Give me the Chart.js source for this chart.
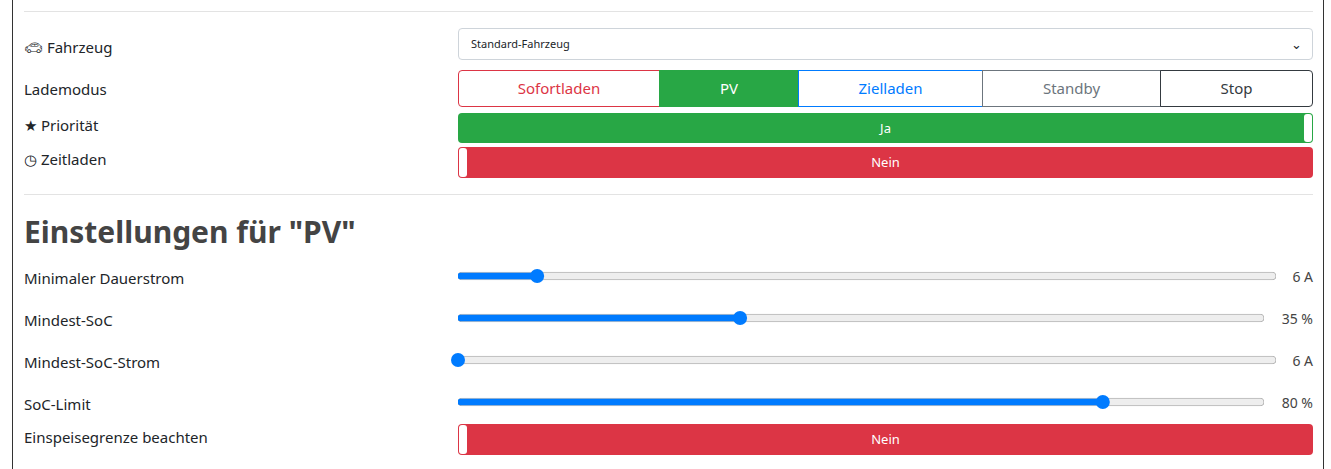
<!DOCTYPE html>
<html><head><meta charset="utf-8">
<script src="https://cdn.jsdelivr.net/npm/chart.js@4/dist/chart.umd.min.js"></script>
<style>
body{margin:0;width:1331px;height:469px;background:#fff;font-family:"Noto Sans","Open Sans",sans-serif;color:#212529;overflow:hidden;position:relative}
.a{position:absolute}
.frame{left:12px;top:-2px;width:1310px;height:480px;border-left:1px solid #333;border-right:1px solid #333}
.hr{left:24px;width:1289px;height:1px;background:#e3e3e3}
.lbl{left:24px;font-size:15px;line-height:20px}
.sel{left:458px;top:28px;width:853px;height:30px;border:1px solid #ced4da;border-radius:4px;font-size:11px;line-height:30px;text-indent:12px}
.sel span{position:absolute;right:10px;top:0;font-size:13px}
.btn{top:70px;height:35px;border:1px solid;font-size:15px;line-height:35px;text-align:center;box-sizing:content-box}
.tog{left:458px;width:855px;border-radius:4px;color:#fff;font-size:13px;text-align:center}
.knob{top:1px;width:8px;bottom:1px;background:#fff;border-radius:3px}
.val{font-size:14px;color:#444;line-height:20px}
h2{position:absolute;left:24px;top:211px;margin:0;font-size:30px;font-weight:bold;color:#444}
</style></head><body>
<div class="a frame"></div>
<div class="a hr" style="top:11px"></div>
<div class="a hr" style="top:194px"></div>
<div class="a lbl" style="top:37px">&#128663;&#xFE0E; Fahrzeug</div>
<div class="a lbl" style="top:79px">Lademodus</div>
<div class="a lbl" style="top:115px">&#9733; Priorität</div>
<div class="a lbl" style="top:149px">&#9719; Zeitladen</div>
<div class="a sel">Standard-Fahrzeug<span>&#8964;</span></div>
<div id="btns"></div>
<div class="a tog" style="top:113px;height:30px;line-height:30px;background:#28a745">Ja<div class="a knob" style="right:1px"></div></div>
<div class="a tog" style="top:147px;height:31px;line-height:31px;background:#dc3545">Nein<div class="a knob" style="left:1px"></div></div>
<h2>Einstellungen für "PV"</h2>
<div id="sliders"></div>
<div class="a lbl" style="top:427px">Einspeisegrenze beachten</div>
<div class="a tog" style="top:424px;height:31px;line-height:31px;background:#dc3545">Nein<div class="a knob" style="left:1px"></div></div>
<script>
const modes = ['Sofortladen', 'PV', 'Zielladen', 'Standby', 'Stop'];
const modeColors = ['#dc3545', '#28a745', '#007bff', '#6c757d', '#343a40'];
const modeEdges = [458, 659, 798, 982, 1160, 1312];
const activeMode = 1;

const sliderLabels = ['Minimaler Dauerstrom', 'Mindest-SoC', 'Mindest-SoC-Strom', 'SoC-Limit'];
const sliderValues = [6, 35, 6, 80];
const sliderMin = [0, 0, 6, 0];
const sliderMax = [62, 100, 32, 100];
const sliderUnits = ['A', '%', 'A', '%'];
const sliderTops = [267, 309, 351, 393];

// Buttons
const btns = document.getElementById('btns');
modes.forEach((m, i) => {
    const b = document.createElement('div');
    b.className = 'a btn';
    b.style.left = modeEdges[i] + 'px';
    b.style.width = (modeEdges[i + 1] - modeEdges[i] - 1) + 'px';
    b.style.borderColor = modeColors[i];
    b.style.borderRadius = i == 0 ? '4px 0 0 4px' : (i == modes.length - 1 ? '0 4px 4px 0' : '0');
    if (i == activeMode) { b.style.background = modeColors[i]; b.style.color = '#fff'; }
    else b.style.color = modeColors[i];
    b.textContent = m;
    btns.appendChild(b);
});

// knob plugin
const knobPlugin = {
    id: 'knob',
    afterDatasetsDraw(chart) {
        const ctx = chart.ctx;
        const x = chart.scales.x.getPixelForValue(chart.data.datasets[1].data[0]);
        const y = chart.scales.y.getPixelForValue(0);
        ctx.save();
        ctx.fillStyle = '#007bff';
        ctx.beginPath(); ctx.arc(x, y, 7, 0, Math.PI * 2); ctx.fill();
        ctx.restore();
    }
};

const sl = document.getElementById('sliders');
sliderLabels.forEach((lab, i) => {
    const l = document.createElement('div');
    l.className = 'a lbl'; l.style.top = (sliderTops[i] + 1) + 'px'; l.textContent = lab;
    sl.appendChild(l);
    const pct = sliderUnits[i] == '%';
    const w = pct ? 818 : 830;
    const box = document.createElement('div');
    box.className = 'a'; box.style.left = '450px'; box.style.top = (sliderTops[i] - 2) + 'px';
    box.style.width = w + 'px'; box.style.height = '22px';
    const c = document.createElement('canvas'); box.appendChild(c); sl.appendChild(box);
    const v = document.createElement('div');
    v.className = 'a val'; v.style.right = '18px'; v.style.top = sliderTops[i] + 'px';
    v.textContent = sliderValues[i] + ' ' + sliderUnits[i];
    sl.appendChild(v);
    new Chart(c, {
        type: 'bar',
        data: {
            labels: [lab],
            datasets: [
                { data: [sliderMax[i]], backgroundColor: '#eeeeee', borderColor: '#b5b5b5', borderWidth: 1, borderRadius: 4, borderSkipped: false, barThickness: 8, grouped: false, order: 2 },
                { data: [sliderValues[i]], backgroundColor: '#007bff', borderRadius: 3, borderSkipped: false, barThickness: 6, grouped: false, order: 1 }
            ]
        },
        options: {
            indexAxis: 'y', responsive: true, maintainAspectRatio: false, animation: false,
            layout: { padding: { left: 8, right: 4 } },
            plugins: { legend: { display: false }, tooltip: { enabled: false } },
            scales: {
                x: { display: false, min: sliderMin[i], max: sliderMax[i], base: sliderMin[i] },
                y: { display: false }
            }
        },
        plugins: [knobPlugin]
    });
});
</script>
</body></html>
